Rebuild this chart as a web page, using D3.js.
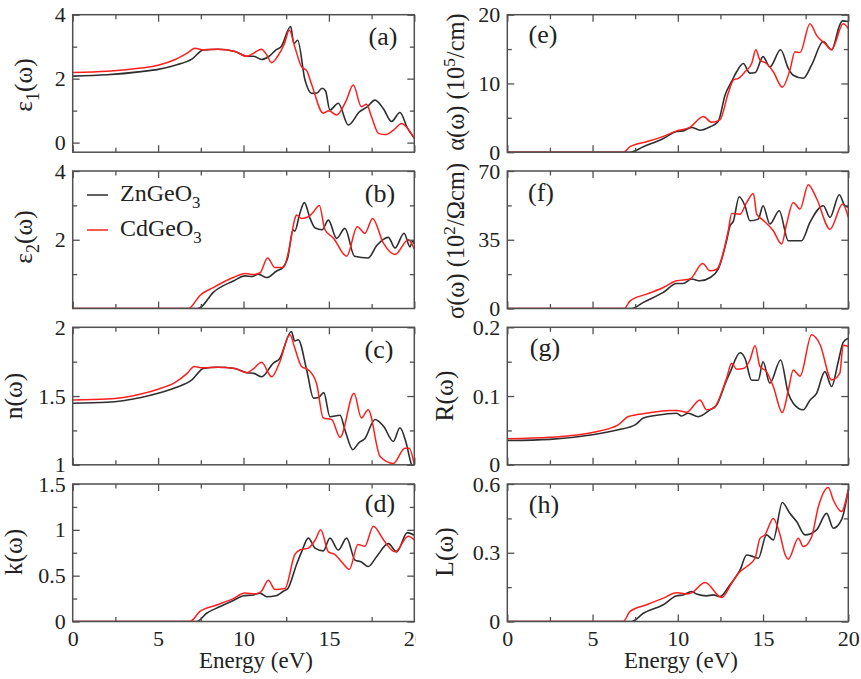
<!DOCTYPE html>
<html>
<head>
<meta charset="utf-8">
<script src="https://cdn.jsdelivr.net/npm/d3@7"></script>
<style>
  body { margin: 0; background: #fff; }
  svg { display: block; }
  text { font-family: "Liberation Serif", "Times New Roman", serif; fill: #222; }
</style>
</head>
<body>
<svg id="chart" width="861" height="679"></svg>
<script>
// ---- energy axis (eV) ----
const energyTicks = [0, 5, 10, 15, 20];
const energyMinor = [2.5, 7.5, 12.5, 17.5];

// ---- series: [energy (eV), value] ----
const eps1Zn = [[0,2.08],[2,2.12],[4,2.22],[5,2.29],[6,2.42],[7,2.62],[7.65,2.9],[8.5,2.92],[9.5,2.85],[10.2,2.7],[10.6,2.7],[11.06,2.6],[11.5,2.7],[11.9,2.9],[12.2,3.0],[12.76,3.63],[12.95,3.1],[13.17,3.2],[13.6,1.96],[14.0,1.54],[14.3,1.55],[14.6,1.7],[14.8,1.62],[15.06,1.02],[15.55,1.23],[16.14,0.55],[16.8,0.97],[17.2,1.1],[17.7,1.33],[18.2,1.05],[18.67,0.66],[19.16,0.94],[19.6,0.45],[20,0.14]];
const eps1Cd = [[0,2.19],[2,2.23],[4,2.33],[5,2.42],[6,2.6],[6.7,2.8],[7.16,2.95],[7.6,2.9],[8.5,2.92],[9.5,2.85],[10.2,2.7],[10.6,2.8],[11.06,2.92],[11.35,2.75],[11.65,2.5],[12.0,2.7],[12.4,3.1],[12.68,3.52],[13.0,3.0],[13.4,2.37],[13.7,2.25],[14.0,1.8],[14.67,0.92],[15.0,1.0],[15.45,0.86],[16.0,1.3],[16.43,1.8],[16.9,1.12],[17.2,1.2],[17.5,0.8],[17.9,0.29],[18.3,0.25],[18.8,0.4],[19.26,0.6],[19.6,0.45],[20,0.13]];

const eps2Zn = [[0,0],[7.3,0],[7.45,0.02],[8.23,0.47],[9.4,0.8],[10.09,0.95],[10.5,0.93],[10.87,1.0],[11.36,0.9],[11.94,1.09],[12.3,1.19],[12.6,1.5],[12.9,2.29],[13.0,2.25],[13.3,2.77],[13.56,3.08],[13.9,2.62],[14.2,2.34],[14.6,2.29],[14.97,2.57],[15.45,2.04],[15.94,2.33],[16.5,1.52],[17.3,1.47],[17.8,1.83],[18.48,2.07],[18.87,1.76],[19.4,2.19],[19.75,1.79],[19.9,1.97],[20,1.88]];
const eps2Cd = [[0,0],[6.8,0],[6.87,0.02],[7.45,0.38],[8.23,0.61],[9.4,0.9],[10.09,1.02],[10.58,0.99],[10.97,1.04],[11.41,1.47],[11.84,1.19],[12.33,1.19],[12.7,1.8],[13.0,2.6],[13.1,2.72],[13.4,2.62],[13.8,2.67],[14.09,2.81],[14.44,3.0],[14.77,2.29],[15.26,2.05],[16.04,1.52],[16.66,2.38],[17.11,2.19],[17.56,2.62],[18.19,1.9],[18.87,1.57],[19.65,2.0],[20,1.73]];

const nZn = [[0,1.448],[2,1.455],[4,1.49],[5,1.52],[6,1.56],[7,1.62],[7.65,1.70],[8.5,1.71],[9.5,1.70],[10.2,1.67],[10.6,1.665],[11.06,1.64],[11.75,1.74],[12.1,1.77],[12.8,1.97],[13.0,1.9],[13.2,1.91],[13.7,1.69],[14.1,1.485],[14.4,1.49],[14.7,1.525],[15.06,1.35],[15.65,1.36],[15.95,1.25],[16.4,1.11],[16.75,1.16],[17.1,1.19],[17.7,1.33],[18.2,1.28],[18.77,1.17],[19.16,1.27],[19.5,1.17],[19.84,1.0],[20,0.97]];
const nCd = [[0,1.472],[2,1.478],[4,1.515],[5,1.55],[6,1.6],[6.7,1.665],[7.12,1.715],[7.6,1.705],[8.5,1.71],[9.5,1.70],[10.2,1.67],[10.6,1.7],[11.06,1.745],[11.65,1.64],[12.1,1.74],[12.72,1.945],[13.0,1.85],[13.4,1.715],[13.8,1.69],[14.28,1.59],[14.67,1.34],[15.16,1.33],[15.65,1.2],[16.47,1.52],[16.9,1.34],[17.3,1.4],[18.0,1.06],[18.77,1.01],[19.45,1.12],[19.7,1.12],[20,1.0]];

const kZn = [[0,0],[7.26,0],[7.84,0.09],[8.6,0.16],[9.4,0.23],[10.0,0.28],[10.58,0.29],[10.97,0.31],[11.36,0.27],[11.9,0.28],[12.33,0.33],[12.6,0.36],[13.1,0.62],[13.4,0.76],[13.8,0.91],[14.19,0.8],[14.67,0.77],[15.06,0.91],[15.55,0.78],[16.04,0.91],[16.53,0.67],[16.9,0.65],[17.3,0.6],[17.8,0.71],[18.48,0.85],[18.97,0.76],[19.59,0.97],[20,0.94]];
const kCd = [[0,0],[6.87,0],[7.45,0.11],[8.43,0.18],[9.4,0.25],[10.09,0.31],[10.67,0.30],[11.05,0.33],[11.45,0.45],[11.84,0.35],[12.43,0.36],[13.0,0.73],[13.3,0.78],[13.8,0.8],[14.2,0.89],[14.52,1.0],[14.97,0.76],[15.36,0.73],[15.75,0.65],[16.2,0.57],[16.7,0.84],[17.1,0.82],[17.6,1.04],[18.2,0.89],[18.87,0.76],[19.65,0.93],[20,0.89]];

const alphaZn = [[0,0],[7.2,0],[7.98,0.8],[9.15,2.0],[9.93,3.0],[10.3,3.1],[10.81,3.6],[11.3,3.2],[11.9,3.7],[12.37,4.45],[12.77,8.3],[13.16,10.3],[13.45,11.7],[13.84,12.9],[14.23,11.5],[14.55,11.6],[15.0,13.9],[15.4,12.4],[16.03,14.9],[16.48,12.2],[16.77,11.2],[17.36,10.75],[17.85,12.7],[18.53,16.1],[19.02,14.9],[19.5,18.5],[19.65,19.1],[20,19.0]];
const alphaCd = [[0,0],[6.8,0],[7.2,0.8],[8.2,1.55],[9.15,2.3],[9.93,3.1],[10.7,3.6],[11.5,5.2],[11.98,4.35],[12.47,4.7],[12.96,8.6],[13.26,10.5],[13.55,10.75],[13.94,11.7],[14.33,12.9],[14.58,14.9],[14.82,13.4],[15.2,12.9],[15.6,11.7],[16.13,9.45],[16.58,12.0],[16.87,14.6],[17.17,14.5],[17.75,18.7],[18.14,17.0],[18.63,15.8],[19.02,14.9],[19.7,18.7],[20,18.0]];

const sigmaZn = [[0,0],[7.3,0],[7.98,3.1],[9.15,8.2],[9.93,12.7],[10.3,12.7],[10.81,15],[11.3,14.1],[11.9,15.8],[12.37,20],[12.86,34.5],[13.06,42],[13.26,44.5],[13.6,56.9],[13.94,52.3],[14.23,44.7],[14.72,45.5],[15.0,52.3],[15.4,43],[15.95,49.8],[16.48,34.5],[16.77,34.5],[17.26,34.5],[17.75,43.8],[18.53,52.3],[18.93,46.4],[19.47,57.9],[19.8,52.3],[20,51.5]];
const sigmaCd = [[0,0],[6.86,0],[7.2,3.9],[8.17,7.3],[9.15,10.7],[9.93,14.1],[10.71,15],[11.46,22.9],[11.89,19.2],[12.28,20],[12.96,39.6],[13.16,48.4],[13.65,48.0],[14.04,54],[14.43,58.6],[14.63,48],[15.0,45],[15.6,39.6],[16.09,32.8],[16.38,43],[16.77,54],[17.17,50.6],[17.65,63],[18.14,56],[18.93,40.4],[19.67,53.2],[20,46.4]];

const reflZn = [[0,0.0354],[2.5,0.037],[5,0.0436],[6.5,0.051],[7.5,0.058],[7.98,0.068],[8.76,0.072],[9.93,0.075],[10.22,0.071],[10.61,0.075],[11.2,0.070],[11.89,0.08],[12.28,0.087],[12.86,0.123],[13.06,0.134],[13.65,0.163],[13.94,0.155],[14.33,0.123],[14.72,0.123],[15.0,0.15],[15.4,0.1186],[16.03,0.1525],[16.48,0.104],[16.77,0.0896],[17.36,0.08],[17.75,0.094],[18.14,0.104],[18.63,0.1356],[19.02,0.114],[19.41,0.15],[19.7,0.178],[20,0.184]];
const reflCd = [[0,0.0378],[2.5,0.040],[5,0.047],[6.5,0.058],[7.1,0.0702],[8.17,0.075],[9.54,0.079],[9.93,0.079],[10.52,0.0765],[11.3,0.0944],[11.69,0.08],[12.08,0.082],[12.86,0.126],[13.16,0.1477],[13.45,0.139],[13.84,0.14],[14.23,0.1525],[14.53,0.173],[14.82,0.143],[15.2,0.1356],[15.6,0.114],[16.13,0.076],[16.48,0.108],[16.77,0.138],[17.17,0.129],[17.85,0.189],[18.34,0.175],[19.02,0.1235],[19.5,0.133],[19.7,0.174],[20,0.172]];

const lossZn = [[0,0],[7.3,0],[7.98,0.036],[9.15,0.073],[9.93,0.112],[10.32,0.116],[10.81,0.131],[11.1,0.12],[11.69,0.112],[12.08,0.116],[12.47,0.109],[13.06,0.16],[13.65,0.225],[14.04,0.29],[14.43,0.283],[14.72,0.276],[15.2,0.378],[15.6,0.356],[16.13,0.519],[16.57,0.472],[16.97,0.436],[17.46,0.378],[18.14,0.4],[18.73,0.472],[19.12,0.407],[19.6,0.443],[20,0.574]];
const lossCd = [[0,0],[6.8,0],[7.2,0.044],[8.17,0.073],[9.15,0.102],[9.93,0.126],[10.52,0.12],[10.81,0.125],[11.6,0.17],[12.57,0.105],[13.16,0.167],[13.65,0.218],[14.04,0.24],[14.53,0.276],[14.82,0.363],[15.11,0.378],[15.6,0.45],[15.99,0.38],[16.3,0.29],[16.48,0.272],[17.07,0.363],[17.36,0.327],[17.85,0.37],[18.24,0.5],[18.83,0.585],[19.12,0.53],[19.6,0.48],[20,0.577]];

// ---- y tick values per panel ----
const ticksA = [0, 2, 4],        minorA = [1, 3];
const ticksB = [2, 4],           minorB = [1, 3];
const ticksC = [1, 1.5, 2],      minorC = [1.25, 1.75];
const ticksD = [0, 0.5, 1, 1.5], minorD = [0.25, 0.75, 1.25];
const ticksE = [0, 10, 20],      minorE = [5, 15];
const ticksF = [0, 35, 70],      minorF = [17.5, 52.5];
const ticksG = [0, 0.1, 0.2],    minorG = [0.05, 0.15];
const ticksH = [0, 0.3, 0.6],    minorH = [0.15, 0.45];

const seriesNames = ["ZnGeO", "CdGeO"];

// ---- layout ----
const svg = d3.select("#chart");
const colX = [[72.7, 414.3], [507.3, 848.3]];
const rowTop = [14.7, 171, 327.3, 484];
const panelH = 137.5;
const colors = { zn: "#2e2e2e", cd: "#ff1e1e" };
const frameColor = "#505050";

const panels = [
  { key: "a", col: 0, row: 0, dom: [-0.3, 4], major: ticksA, minor: minorA, zn: eps1Zn, cd: eps1Cd,
    title: [["ε"], ["1", "sub"], ["(ω)"]], tpos: [32, 85], lpos: [383, 36] },
  { key: "b", col: 0, row: 1, dom: [0, 4], major: ticksB, minor: minorB, zn: eps2Zn, cd: eps2Cd,
    title: [["ε"], ["2", "sub"], ["(ω)"]], tpos: [32, 237], lpos: [380, 193] },
  { key: "c", col: 0, row: 2, dom: [1, 2], major: ticksC, minor: minorC, zn: nZn, cd: nCd,
    title: [["n(ω)"]], tpos: [22, 396], lpos: [379, 349] },
  { key: "d", col: 0, row: 3, dom: [0, 1.5], major: ticksD, minor: minorD, zn: kZn, cd: kCd,
    title: [["k(ω)"]], tpos: [22, 552], lpos: [380, 503] },
  { key: "e", col: 1, row: 0, dom: [0, 20], major: ticksE, minor: minorE, zn: alphaZn, cd: alphaCd,
    title: [["α(ω) (10"], ["5", "sup"], ["/cm)"]], tpos: [464, 82], lpos: [543, 34], small: true },
  { key: "f", col: 1, row: 1, dom: [0, 70], major: ticksF, minor: minorF, zn: sigmaZn, cd: sigmaCd,
    title: [["σ(ω) (10"], ["2", "sup"], ["/Ωcm)"]], tpos: [464, 241], lpos: [541, 192], small: true },
  { key: "g", col: 1, row: 2, dom: [0, 0.2], major: ticksG, minor: minorG, zn: reflZn, cd: reflCd,
    title: [["R(ω)"]], tpos: [453, 396], lpos: [545, 347] },
  { key: "h", col: 1, row: 3, dom: [0, 0.6], major: ticksH, minor: minorH, zn: lossZn, cd: lossCd,
    title: [["L(ω)"]], tpos: [453, 552], lpos: [544, 504] }
];

const defs = svg.append("defs");
// the left column's last energy label runs into the gap between columns and is cut there
defs.append("clipPath").attr("id", "leftcol")
  .append("rect").attr("x", 0).attr("y", 0).attr("width", 415.5).attr("height", 679);

const tickFont = 22, titleFont = 25.5, longTitleFont = 24.5, energyFont = 23, letterFont = 26, legendFont = 24;

// writes text segments, with sub/superscripts, into a text element
function richText(sel, segs, fs) {
  let shift = 0;
  segs.forEach(([t, kind]) => {
    const target = kind === "sub" ? 0.28 * fs : kind === "sup" ? -0.38 * fs : 0;
    const ts = sel.append("tspan").text(t).attr("dy", target - shift);
    if (kind) ts.attr("font-size", 0.7 * fs);
    shift = target;
  });
}

function styleAxis(g) {
  g.select(".domain").remove();
  g.selectAll(".tick line").attr("stroke", frameColor).attr("stroke-width", 1.3);
  g.selectAll("text").attr("font-size", tickFont).attr("font-family", null).attr("fill", "#222");
  g.attr("font-family", null).attr("font-size", null);
}

panels.forEach(p => {
  const [x0, x1] = colX[p.col];
  const top = rowTop[p.row], bottom = top + panelH;
  const x = d3.scaleLinear().domain([0, 20]).range([x0, x1]);
  const y = d3.scaleLinear().domain(p.dom).range([bottom, top]);
  const g = svg.append("g").attr("class", "panel-" + p.key);

  defs.append("clipPath").attr("id", "clip-" + p.key)
    .append("rect").attr("x", x0).attr("y", top).attr("width", x1 - x0).attr("height", panelH);

  // curves
  const line = d3.line().x(d => x(d[0])).y(d => y(d[1])).curve(d3.curveMonotoneX);
  const curves = g.append("g").attr("clip-path", `url(#clip-${p.key})`);
  curves.append("path").datum(p.zn).attr("d", line)
    .attr("fill", "none").attr("stroke", colors.zn).attr("stroke-width", 1.6).attr("stroke-linejoin", "round");
  curves.append("path").datum(p.cd).attr("d", line)
    .attr("fill", "none").attr("stroke", colors.cd).attr("stroke-width", 1.5).attr("stroke-linejoin", "round");

  // inward ticks on all four sides
  const isBottomRow = p.row === 3;
  const xb = g.append("g").attr("transform", `translate(0,${bottom})`)
    .call(d3.axisBottom(x).tickValues(energyTicks).tickSize(-7).tickPadding(9)
      .tickFormat(isBottomRow ? d3.format("d") : ""));
  styleAxis(xb);
  if (isBottomRow && p.col === 0) xb.attr("clip-path", "url(#leftcol)");
  styleAxis(g.append("g").attr("transform", `translate(0,${bottom})`)
    .call(d3.axisBottom(x).tickValues(energyMinor).tickSize(-4.5).tickFormat("")));
  styleAxis(g.append("g").attr("transform", `translate(0,${top})`)
    .call(d3.axisTop(x).tickValues(energyTicks).tickSize(-7).tickFormat("")));
  styleAxis(g.append("g").attr("transform", `translate(0,${top})`)
    .call(d3.axisTop(x).tickValues(energyMinor).tickSize(-4.5).tickFormat("")));

  styleAxis(g.append("g").attr("transform", `translate(${x0},0)`)
    .call(d3.axisLeft(y).tickValues(p.major).tickSize(-7).tickPadding(7).tickFormat(d => String(d))));
  styleAxis(g.append("g").attr("transform", `translate(${x0},0)`)
    .call(d3.axisLeft(y).tickValues(p.minor).tickSize(-4.5).tickFormat("")));
  styleAxis(g.append("g").attr("transform", `translate(${x1},0)`)
    .call(d3.axisRight(y).tickValues(p.major).tickSize(-7).tickFormat("")));
  styleAxis(g.append("g").attr("transform", `translate(${x1},0)`)
    .call(d3.axisRight(y).tickValues(p.minor).tickSize(-4.5).tickFormat("")));

  // frame
  g.append("rect").attr("x", x0).attr("y", top).attr("width", x1 - x0).attr("height", panelH)
    .attr("fill", "none").attr("stroke", frameColor).attr("stroke-width", 1.5);

  // panel letter
  g.append("text").attr("x", p.lpos[0]).attr("y", p.lpos[1]).attr("dy", "0.35em")
    .attr("text-anchor", "middle").attr("font-size", letterFont).text(`(${p.key})`);

  // y title
  const fs = p.small ? longTitleFont : titleFont;
  const t = g.append("text")
    .attr("transform", `translate(${p.tpos[0]},${p.tpos[1]}) rotate(-90)`)
    .attr("text-anchor", "middle").attr("dy", "0.35em").attr("font-size", fs);
  richText(t, p.title, fs);

  if (isBottomRow) {
    g.append("text").attr("x", p.col === 0 ? 256 : 681).attr("y", 668)
      .attr("text-anchor", "middle").attr("font-size", energyFont).text("Energy (eV)");
  }
});

// legend inside panel (b)
const legend = svg.append("g").attr("class", "legend");
[["zn", 195], ["cd", 230]].forEach(([k, yy], i) => {
  legend.append("line").attr("x1", 87).attr("x2", 108).attr("y1", yy).attr("y2", yy)
    .attr("stroke", colors[k]).attr("stroke-width", 1.5);
  const t = legend.append("text").attr("x", 120).attr("y", yy + 6).attr("font-size", legendFont);
  richText(t, [[seriesNames[i]], ["3", "sub"]], legendFont);
});
</script>
</body>
</html>
